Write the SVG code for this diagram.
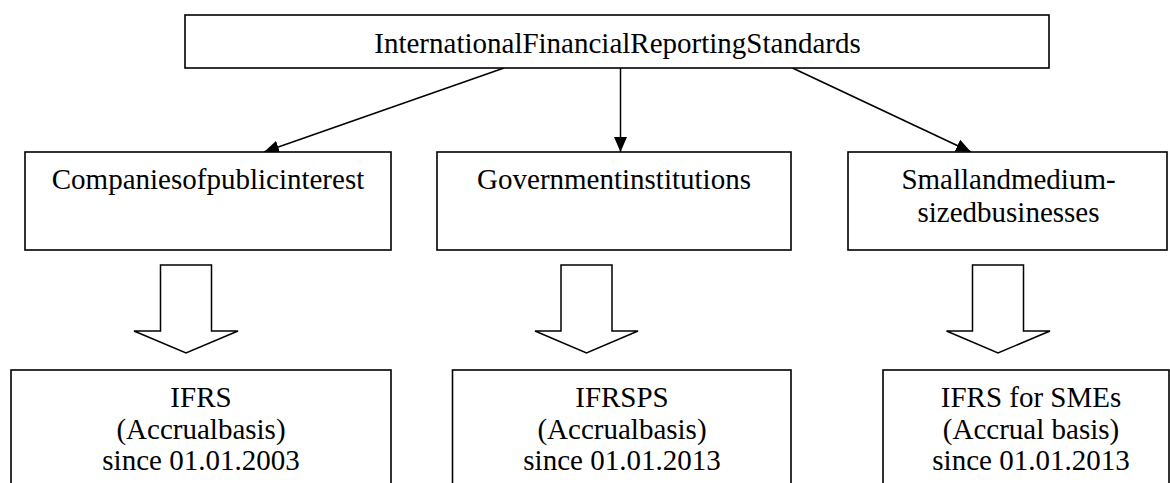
<svg xmlns="http://www.w3.org/2000/svg" width="1170" height="483" viewBox="0 0 1170 483">
<defs>
<style>
.box{fill:#fff;stroke:#000;stroke-width:1.6}
.t{font-family:"Liberation Serif","Times New Roman",serif;font-size:29px;fill:#000;text-anchor:middle}
.con{stroke:#000;stroke-width:1.5;fill:none}
.big{fill:#fff;stroke:#000;stroke-width:1.5;stroke-linejoin:miter}
</style>
<marker id="ah" viewBox="0 0 15 13" refX="15" refY="6.5" markerWidth="15" markerHeight="13" markerUnits="userSpaceOnUse" orient="auto">
<path d="M0,0 L15,6.5 L0,13 Z" fill="#000"/>
</marker>
</defs>
<rect width="1170" height="483" fill="#fff"/>
<g id="connectors">
<line class="con" x1="504" y1="68" x2="264" y2="152" marker-end="url(#ah)"/>
<line class="con" x1="620.5" y1="68" x2="620.5" y2="152" marker-end="url(#ah)"/>
<line class="con" x1="792.5" y1="68" x2="971" y2="152" marker-end="url(#ah)"/>
<path class="big" d="M160.5,265 H211.5 V331 H238 L186,353 L134,331 H160.5 Z"/>
<path class="big" d="M561,265 H612 V331 H638 L586.5,353 L535,331 H561 Z"/>
<path class="big" d="M972.5,265 H1023.5 V331 H1050 L998,353 L946.5,331 H972.5 Z"/>
</g>
<g id="node-ifrs-root">
<rect class="box" x="185" y="15" width="864" height="53"/>
<text class="t" x="617.5" y="53">InternationalFinancialReportingStandards</text>
</g>
<g id="node-public">
<rect class="box" x="25" y="152" width="366" height="98"/>
<text class="t" x="208" y="189">Companiesofpublicinterest</text>
</g>
<g id="node-gov">
<rect class="box" x="437" y="152" width="354" height="98"/>
<text class="t" x="614" y="189">Governmentinstitutions</text>
</g>
<g id="node-sme">
<rect class="box" x="848" y="152" width="319" height="98"/>
<text class="t" x="1008.5" y="189">Smallandmedium-</text>
<text class="t" x="1008.5" y="222">sizedbusinesses</text>
</g>
<g id="node-ifrs">
<rect class="box" x="11" y="370" width="380" height="130"/>
<text class="t" x="201" y="407">IFRS</text>
<text class="t" x="201" y="438.5">(Accrualbasis)</text>
<text class="t" x="201" y="470">since 01.01.2003</text>
</g>
<g id="node-ipsas">
<rect class="box" x="452.5" y="370" width="338.5" height="130"/>
<text class="t" x="622" y="407">IFRSPS</text>
<text class="t" x="622" y="438.5">(Accrualbasis)</text>
<text class="t" x="622" y="470">since 01.01.2013</text>
</g>
<g id="node-ifrs-sme">
<rect class="box" x="883" y="370" width="286" height="130"/>
<text class="t" x="1031" y="407">IFRS for SMEs</text>
<text class="t" x="1031" y="438.5">(Accrual basis)</text>
<text class="t" x="1031" y="470">since 01.01.2013</text>
</g>
</svg>
